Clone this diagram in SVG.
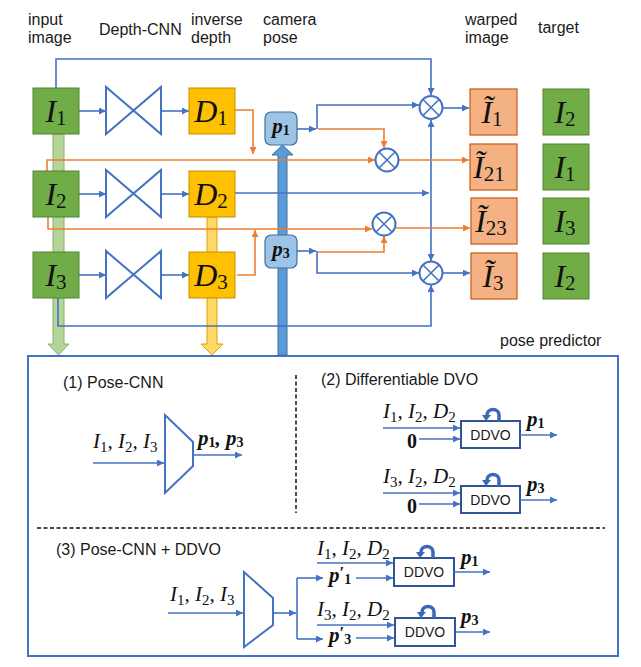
<svg xmlns="http://www.w3.org/2000/svg" xmlns:xlink="http://www.w3.org/1999/xlink" width="641" height="667" viewBox="0 0 641 667">
<style>
.lbl{font-family:"Liberation Sans",Arial,sans-serif;font-size:16px;fill:#1a1a1a}
.ddvo{font-family:"Liberation Sans",Arial,sans-serif;font-size:14px;fill:#1a1a1a}
.m{font-family:"Liberation Serif","Times New Roman",serif;font-style:italic;font-size:21px;fill:#111}
.big{font-family:"Liberation Serif","Times New Roman",serif;font-style:italic;font-size:32px;fill:#111}
.bs{font-size:21px;font-style:normal}
.s{font-size:15px;font-style:normal}
.pb{font-family:"Liberation Serif","Times New Roman",serif;font-style:italic;font-weight:bold;font-size:21px;fill:#111}
.ps{font-size:14px;font-style:normal}
.pr{font-size:17px;font-style:normal}
.zero{font-family:"Liberation Serif","Times New Roman",serif;font-weight:bold;font-size:20px;fill:#111}
.bl{fill:none;stroke:#4472C4;stroke-width:1.6}
.or{fill:none;stroke:#ED7D31;stroke-width:1.6}
.green{fill:#70AD47;stroke:#548235;stroke-width:1}
.gold{fill:#FFC000;stroke:#BF9000;stroke-width:1}
.salmon{fill:#F4B183;stroke:#C55A11;stroke-width:1.2}
.pbox{fill:#9DC3E6;stroke:#41719C;stroke-width:1.2}
.cnn{fill:none;stroke:#4472C4;stroke-width:2}
.mul{fill:#fff;stroke:#4472C4;stroke-width:2}
.dbox{fill:#fff;stroke:#2F5597;stroke-width:2}
.dash{stroke:#111;stroke-width:1.5;stroke-dasharray:4 2.5}
</style>
<defs>
<marker id="ab" viewBox="0 0 10 10" refX="10" refY="5" markerWidth="7" markerHeight="7" markerUnits="userSpaceOnUse" orient="auto"><path d="M0,0 L10,5 L0,10 z" fill="#4472C4"/></marker>
<marker id="ao" viewBox="0 0 10 10" refX="10" refY="5" markerWidth="7" markerHeight="7" markerUnits="userSpaceOnUse" orient="auto"><path d="M0,0 L10,5 L0,10 z" fill="#ED7D31"/></marker>
<g id="bowtie"><path d="M0,0 V47 L55,0 V47 Z" class="cnn"/></g>
<g id="otimes"><circle cx="0" cy="0" r="11.5" class="mul"/><path d="M-8,-8 L8,8 M-8,8 L8,-8" stroke="#4472C4" stroke-width="1.6"/></g>
<g id="loop"><path d="M0,0 V-6 A6,5.5 0 0 0 -12,-6 V-5" fill="none" stroke="#3C67B4" stroke-width="3.5"/><polygon points="-17,-6 -8,-6 -13,0" fill="#3C67B4"/></g>
</defs>

<g id="labels">
<text class="lbl" x="28" y="25">input</text>
<text class="lbl" x="28" y="43">image</text>
<text class="lbl" x="99" y="35">Depth-CNN</text>
<text class="lbl" x="191" y="25">inverse</text>
<text class="lbl" x="191" y="43">depth</text>
<text class="lbl" x="263" y="25">camera</text>
<text class="lbl" x="263" y="43">pose</text>
<text class="lbl" x="465" y="25">warped</text>
<text class="lbl" x="465" y="43">image</text>
<text class="lbl" x="538" y="33">target</text>
<text class="lbl" x="500" y="346">pose predictor</text>
</g>

<g id="broad-arrows">
<polygon id="green-arrow" points="53,134 64,134 64,344 69,344 58.5,355 48,344 53,344" fill="#B4D49A" stroke="#86B463" stroke-width="1"/>
<polygon id="gold-arrow" points="207,217 217,217 217,344 223,344 212,355 201,344 207,344" fill="#FFD966" stroke="#D6A300" stroke-width="1"/>
<polygon id="pose-arrow" points="278,355 278,155 272,155 282.5,145 293,155 287,155 287,355" fill="#5B9BD5" stroke="#41719C" stroke-width="1"/>
</g>

<g id="connectors">
<path class="bl" d="M56,88 V59 H431 V95" marker-end="url(#ab)"/>
<path class="bl" d="M79,111 H106" marker-end="url(#ab)"/>
<path class="bl" d="M161,111 H189" marker-end="url(#ab)"/>
<path class="bl" d="M79,194 H106" marker-end="url(#ab)"/>
<path class="bl" d="M161,194 H189" marker-end="url(#ab)"/>
<path class="bl" d="M79,275 H106" marker-end="url(#ab)"/>
<path class="bl" d="M161,275 H189" marker-end="url(#ab)"/>
<path class="or" d="M235,110 H253 V154" marker-end="url(#ao)"/>
<path class="or" d="M47,171 V160 H375" marker-end="url(#ao)"/>
<path class="or" d="M48,217 V229 H372" marker-end="url(#ao)"/>
<path class="or" d="M237,275 H255 V230" marker-end="url(#ao)"/>
<path class="bl" d="M297,129 H316" marker-end="url(#ab)"/>
<path class="bl" d="M317,129 V105 H419" marker-end="url(#ab)"/>
<path class="or" d="M318,129 H384 V148" marker-end="url(#ao)"/>
<path class="bl" d="M297,251 H316" marker-end="url(#ab)"/>
<path class="bl" d="M317,251 V273 H419" marker-end="url(#ab)"/>
<path class="or" d="M318,252 H384 V236" marker-end="url(#ao)"/>
<path class="bl" d="M235,193 H429" marker-end="url(#ab)"/>
<path class="bl" d="M431,193 V120" marker-end="url(#ab)"/>
<path class="bl" d="M431,193 V261" marker-end="url(#ab)"/>
<path class="bl" d="M58,298 V326 H431 V285" marker-end="url(#ab)"/>
<path class="bl" d="M443,108 H469" marker-end="url(#ab)"/>
<path class="or" d="M399,160 H469" marker-end="url(#ao)"/>
<path class="or" d="M396,228 H470" marker-end="url(#ao)"/>
<path class="bl" d="M443,273 H470" marker-end="url(#ab)"/>
</g>

<g id="I1"><rect class="green" x="33" y="88" width="46" height="46"/><text class="big" x="56" y="122" text-anchor="middle">I<tspan class="bs" dy="3">1</tspan></text></g>
<g id="I2"><rect class="green" x="33" y="171" width="46" height="46"/><text class="big" x="56" y="205" text-anchor="middle">I<tspan class="bs" dy="3">2</tspan></text></g>
<g id="I3"><rect class="green" x="33" y="252" width="46" height="46"/><text class="big" x="56" y="286" text-anchor="middle">I<tspan class="bs" dy="3">3</tspan></text></g>

<g id="cnn1"><use xlink:href="#bowtie" x="106" y="87"/></g>
<g id="cnn2"><use xlink:href="#bowtie" x="106" y="170"/></g>
<g id="cnn3"><use xlink:href="#bowtie" x="106" y="251"/></g>

<g id="D1"><rect class="gold" x="189" y="88" width="46" height="46"/><text class="big" x="211" y="122" text-anchor="middle">D<tspan class="bs" dy="3">1</tspan></text></g>
<g id="D2"><rect class="gold" x="189" y="171" width="46" height="46"/><text class="big" x="211" y="205" text-anchor="middle">D<tspan class="bs" dy="3">2</tspan></text></g>
<g id="D3"><rect class="gold" x="189" y="252" width="46" height="46"/><text class="big" x="211" y="286" text-anchor="middle">D<tspan class="bs" dy="3">3</tspan></text></g>

<g id="p1"><rect class="pbox" x="265" y="112" width="32" height="33" rx="6"/><text class="pb" x="281" y="133" text-anchor="middle">p<tspan class="ps" dy="2">1</tspan></text></g>
<g id="p3"><rect class="pbox" x="265" y="235" width="32" height="33" rx="6"/><text class="pb" x="281" y="256" text-anchor="middle">p<tspan class="ps" dy="2">3</tspan></text></g>

<g id="mul1"><use xlink:href="#otimes" x="431" y="107.5"/></g>
<g id="mul2"><use xlink:href="#otimes" x="387" y="160"/></g>
<g id="mul3"><use xlink:href="#otimes" x="384" y="224"/></g>
<g id="mul4"><use xlink:href="#otimes" x="431" y="273"/></g>

<g id="W1"><rect class="salmon" x="470" y="89" width="47" height="46"/><text class="big" x="492" y="123" text-anchor="middle">Ĩ<tspan class="bs" dy="3">1</tspan></text></g>
<g id="W21"><rect class="salmon" x="470" y="144" width="47" height="46"/><text class="big" x="489" y="178" text-anchor="middle">Ĩ<tspan class="bs" dy="3">21</tspan></text></g>
<g id="W23"><rect class="salmon" x="471" y="198" width="46" height="46"/><text class="big" x="491" y="232" text-anchor="middle">Ĩ<tspan class="bs" dy="3">23</tspan></text></g>
<g id="W3"><rect class="salmon" x="471" y="253" width="46" height="46"/><text class="big" x="493" y="287" text-anchor="middle">Ĩ<tspan class="bs" dy="3">3</tspan></text></g>

<g id="T1"><rect class="green" x="543" y="89" width="46" height="46"/><text class="big" x="565" y="123" text-anchor="middle">I<tspan class="bs" dy="3">2</tspan></text></g>
<g id="T2"><rect class="green" x="543" y="144" width="46" height="46"/><text class="big" x="565" y="178" text-anchor="middle">I<tspan class="bs" dy="3">1</tspan></text></g>
<g id="T3"><rect class="green" x="543" y="198" width="46" height="46"/><text class="big" x="565" y="232" text-anchor="middle">I<tspan class="bs" dy="3">3</tspan></text></g>
<g id="T4"><rect class="green" x="543" y="253" width="46" height="46"/><text class="big" x="565" y="287" text-anchor="middle">I<tspan class="bs" dy="3">2</tspan></text></g>

<g id="pose-predictor">
<rect x="28" y="356" width="590" height="300" fill="#fff" stroke="#4472C4" stroke-width="2"/>
<line class="dash" x1="296" y1="375" x2="296" y2="513"/>
<line class="dash" x1="37" y1="528" x2="605" y2="528"/>
</g>

<g id="posecnn-1">
<text class="lbl" x="63" y="388">(1) Pose-CNN</text>
<polygon class="cnn" points="165,415 193,442 193,466 165,493"/>
<path class="bl" d="M93,463 H164" marker-end="url(#ab)"/>
<path class="bl" d="M193,455 H242" marker-end="url(#ab)"/>
<text class="m" x="93" y="448">I<tspan class="s" dy="4">1</tspan><tspan dy="-4">, I</tspan><tspan class="s" dy="4">2</tspan><tspan dy="-4">, I</tspan><tspan class="s" dy="4">3</tspan></text>
<text class="pb" x="198" y="445">p<tspan class="ps" dy="2">1</tspan><tspan dy="-2">, p</tspan><tspan class="ps" dy="2">3</tspan></text>
</g>

<g id="ddvo-2">
<text class="lbl" x="321" y="385">(2) Differentiable DVO</text>
<text class="m" x="383" y="418">I<tspan class="s" dy="4">1</tspan><tspan dy="-4">, I</tspan><tspan class="s" dy="4">2</tspan><tspan dy="-4">, D</tspan><tspan class="s" dy="4">2</tspan></text>
<path class="bl" d="M383,428 H460" marker-end="url(#ab)"/>
<text class="zero" x="407" y="448">0</text>
<path class="bl" d="M419,439 H460" marker-end="url(#ab)"/>
<rect class="dbox" x="461" y="421" width="59" height="27"/>
<text class="ddvo" x="490.5" y="439.5" text-anchor="middle">DDVO</text>
<use xlink:href="#loop" x="499" y="421"/>
<path class="bl" d="M520,435 H557" marker-end="url(#ab)"/>
<text class="pb" x="527" y="426">p<tspan class="ps" dy="2">1</tspan></text>

<text class="m" x="383" y="483">I<tspan class="s" dy="4">3</tspan><tspan dy="-4">, I</tspan><tspan class="s" dy="4">2</tspan><tspan dy="-4">, D</tspan><tspan class="s" dy="4">2</tspan></text>
<path class="bl" d="M383,493 H460" marker-end="url(#ab)"/>
<text class="zero" x="407" y="513">0</text>
<path class="bl" d="M419,504 H460" marker-end="url(#ab)"/>
<rect class="dbox" x="461" y="486" width="59" height="27"/>
<text class="ddvo" x="490.5" y="504.5" text-anchor="middle">DDVO</text>
<use xlink:href="#loop" x="499" y="486"/>
<path class="bl" d="M520,500 H557" marker-end="url(#ab)"/>
<text class="pb" x="527" y="491">p<tspan class="ps" dy="2">3</tspan></text>
</g>

<g id="posecnn-ddvo-3">
<text class="lbl" x="56" y="555">(3) Pose-CNN + DDVO</text>
<polygon class="cnn" points="244,572 273,598 273,625 244,647"/>
<path class="bl" d="M168,613 H243" marker-end="url(#ab)"/>
<text class="m" x="170" y="601">I<tspan class="s" dy="4">1</tspan><tspan dy="-4">, I</tspan><tspan class="s" dy="4">2</tspan><tspan dy="-4">, I</tspan><tspan class="s" dy="4">3</tspan></text>
<path class="bl" d="M273,613 H296" marker-end="url(#ab)"/>
<path class="bl" d="M297,578 V639"/>
<path class="bl" d="M297,578 H323" marker-end="url(#ab)"/>
<path class="bl" d="M297,639 H323" marker-end="url(#ab)"/>

<text class="m" x="317" y="555">I<tspan class="s" dy="4">1</tspan><tspan dy="-4">, I</tspan><tspan class="s" dy="4">2</tspan><tspan dy="-4">, D</tspan><tspan class="s" dy="4">2</tspan></text>
<path class="bl" d="M317,563 H393" marker-end="url(#ab)"/>
<text class="pb" x="329" y="582">p<tspan class="pr" dy="-4">′</tspan><tspan class="ps" dy="6">1</tspan></text>
<path class="bl" d="M356,578 H393" marker-end="url(#ab)"/>
<rect class="dbox" x="394" y="558" width="60" height="28"/>
<text class="ddvo" x="424" y="577" text-anchor="middle">DDVO</text>
<use xlink:href="#loop" x="433" y="558"/>
<path class="bl" d="M454,572 H490" marker-end="url(#ab)"/>
<text class="pb" x="461" y="564">p<tspan class="ps" dy="2">1</tspan></text>

<text class="m" x="317" y="616">I<tspan class="s" dy="4">3</tspan><tspan dy="-4">, I</tspan><tspan class="s" dy="4">2</tspan><tspan dy="-4">, D</tspan><tspan class="s" dy="4">2</tspan></text>
<path class="bl" d="M317,625 H394" marker-end="url(#ab)"/>
<text class="pb" x="329" y="642">p<tspan class="pr" dy="-4">′</tspan><tspan class="ps" dy="6">3</tspan></text>
<path class="bl" d="M356,638 H394" marker-end="url(#ab)"/>
<rect class="dbox" x="395" y="618" width="60" height="28"/>
<text class="ddvo" x="425" y="637" text-anchor="middle">DDVO</text>
<use xlink:href="#loop" x="434" y="618"/>
<path class="bl" d="M455,632 H490" marker-end="url(#ab)"/>
<text class="pb" x="461" y="623">p<tspan class="ps" dy="2">3</tspan></text>
</g>
</svg>
